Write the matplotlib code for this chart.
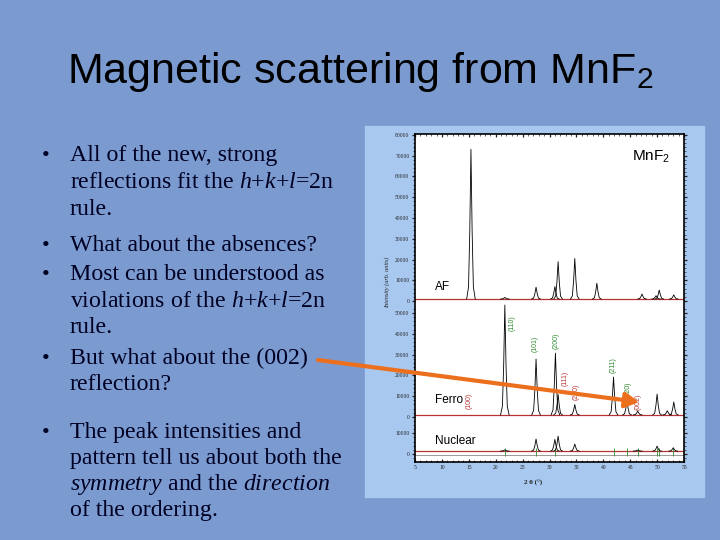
import matplotlib
matplotlib.use("Agg")
import matplotlib.pyplot as plt
import numpy as np
from matplotlib.patches import Rectangle, FancyArrowPatch

# --- data (2 theta in degrees, intensity in arb. units) ---
af_pos = [15.4, 21.7, 27.5, 31.0, 31.6, 34.7, 38.8, 47.2, 49.8, 50.4, 53.1]
af_top = [73000, 1800, 6700, 7000, 19000, 20500, 8600, 3400, 2600, 5300, 3000]
af_base = 1000

ferro_pos = [21.7, 27.5, 31.1, 31.6, 34.7, 41.9, 44.4, 46.4, 50.0, 51.9, 53.1]
ferro_top = [53800, 27900, 30700, 10800, 6000, 19200, 7600, 2800, 11000, 3000, 7200]
ferro_base = 1000

nuc_pos = [21.7, 27.5, 31.0, 31.6, 34.7, 46.4, 50.0, 53.0]
nuc_top = [2000, 7200, 7000, 8600, 4800, 1900, 3800, 3000]
nuc_base = 1400

bragg_pos = [21.7, 27.5, 31.0, 41.9, 44.4, 46.4, 50.0, 50.4, 53.0]

hkl_labels = ['(100)', '(110)', '(101)', '(200)', '(111)', '(210)', '(211)', '(220)', '(002)']
hkl_allowed = [False, True, True, True, False, False, True, True, False]
hkl_x = [15.0, 23.0, 27.3, 31.2, 32.9, 34.9, 41.8, 44.6, 46.4]

af_ticks = [0, 10000, 20000, 30000, 40000, 50000, 60000, 70000, 80000]
ferro_ticks = [0, 10000, 20000, 30000, 40000, 50000]
nuc_ticks = [0, 10000]

bullet_lines = [
    (True, "All of the new, strong"),
    (False, "reflections fit the $h$+$k$+$l$=2n"),
    (False, "rule."),
    (True, "What about the absences?"),
    (True, "Most can be understood as"),
    (False, "violations of the $h$+$k$+$l$=2n"),
    (False, "rule."),
    (True, "But what about the (002)"),
    (False, "reflection?"),
    (True, "The peak intensities and"),
    (False, "pattern tell us about both the"),
    (False, "$symmetry$ and the $direction$"),
    (False, "of the ordering."),
]

# --- layout / style ---
W, H = 720, 540
BG = '#7b9bd0'
FRAME = '#a8c8f0'
TXT = '#000022'
RED = '#b83232'
GREEN = '#2e8b2e'
ORANGE = '#ec6f1e'
AF_OFF = 73500
FERRO_OFF = 17800
line_base = [161, 188, 215, 251, 280, 307, 333, 364, 390, 438, 464, 490, 516]
hkl_y = [7700, 45200, 35100, 36500, 18700, 12000, 25000, 13000, 7200]

plt.rcParams['mathtext.fontset'] = 'custom'
plt.rcParams['mathtext.rm'] = 'Liberation Sans'
plt.rcParams['mathtext.it'] = 'Liberation Serif:italic'


def fx(px):
    return px / W


def fy(py):
    return 1 - py / H


fig = plt.figure(figsize=(7.2, 5.4), dpi=100, facecolor=BG)

fig.add_artist(Rectangle((fx(365), fy(497)), 339 / W, 371 / H,
                         transform=fig.transFigure, color=FRAME, zorder=-1))

fig.text(0.5, fy(83), "Magnetic scattering from MnF$_\\mathrm{2}$",
         ha='center', va='baseline', fontsize=31, family='Liberation Sans', color='black')

for (bullet, s), yb in zip(bullet_lines, line_base):
    if bullet:
        fig.text(fx(42), fy(yb), "\u2022", fontsize=16, family='Liberation Serif',
                 color=TXT, va='baseline')
    fig.text(fx(70), fy(yb), s, fontsize=17.2, family='Liberation Serif',
             color=TXT, va='baseline')

ax = fig.add_axes([fx(415), fy(462), 269 / W, 328 / H])
ax.set_facecolor('white')

shape_dx = np.array([-0.8, -0.45, -0.22, 0, 0.22, 0.45, 0.8])
shape_f = np.array([0, 0.08, 0.45, 1, 0.45, 0.08, 0])


def draw_pattern(pos, top, base, off):
    ax.plot([5, 55], [off + base, off + base], color=RED, lw=0.9, zorder=2)
    for p, t in zip(pos, top):
        ax.plot(p + shape_dx, off + base + (t - base) * shape_f, color='black', lw=0.6, zorder=3)


draw_pattern(af_pos, af_top, af_base, AF_OFF)
draw_pattern(ferro_pos, ferro_top, ferro_base, FERRO_OFF)
draw_pattern(nuc_pos, nuc_top, nuc_base, 0)
ax.plot([5, 55], [-480, -480], color='#999999', lw=0.7)
ax.vlines(bragg_pos, -1000, 2900, color=GREEN, lw=0.6)

for lab, ok, x, y in zip(hkl_labels, hkl_allowed, hkl_x, hkl_y):
    ax.text(x, FERRO_OFF + y, lab, rotation=90, ha='center', va='center', fontsize=5,
            family='Liberation Sans', color=GREEN if ok else RED)

ax.text(8.7, AF_OFF + 6800, "AF", fontsize=8.5, family='Liberation Sans', va='center')
ax.text(8.7, FERRO_OFF + 8200, "Ferro", fontsize=8.5, family='Liberation Sans', va='center')
ax.text(8.7, 6250, "Nuclear", fontsize=8.5, family='Liberation Sans', va='center')
ax.text(45.3, AF_OFF + 69300, "MnF$_\\mathrm{2}$", fontsize=11, family='Liberation Sans', va='center')

ax.set_xlim(5, 55)
ax.set_ylim(-3850, 153850)
ax.set_xticks(range(5, 56, 5))
ax.set_xticks(np.arange(5, 56, 1), minor=True)
ytick_pos = [AF_OFF + t for t in af_ticks] + [FERRO_OFF + t for t in ferro_ticks] + nuc_ticks
ytick_lab = [str(t) for t in af_ticks] + [str(t) for t in ferro_ticks] + [str(t) for t in nuc_ticks]
ax.set_yticks(ytick_pos, ytick_lab)
minor = list(AF_OFF + np.arange(0, 80001, 2000)) + list(FERRO_OFF + np.arange(0, 52001, 2000)) \
    + list(np.arange(-2000, 16001, 2000))
ax.set_yticks(minor, minor=True)
ax.tick_params(axis='x', which='both', direction='in', top=True, labelsize=4,
               labelfontfamily='Liberation Serif', pad=2.5, colors='#222222')
ax.tick_params(axis='y', which='both', direction='out', right=True, labelsize=4,
               labelfontfamily='Liberation Serif', pad=1.5, colors='#222222')
ax.tick_params(which='major', length=2.5, width=0.9)
ax.tick_params(which='minor', length=1.3, width=0.5)
for sp in ax.spines.values():
    sp.set_linewidth(1.2)

fig.text(fx(387), fy(282), "Intensity (arb. units)", rotation=90, ha='center', va='center',
         fontsize=4.5, family='Liberation Serif', style='italic', color='#222222')
fig.text(fx(533), fy(483), "2 \u03b8 (\u00b0)", ha='center', va='center',
         fontsize=5, family='Liberation Serif', weight='bold', color='#222222')

arrow = FancyArrowPatch((fx(318), fy(360)), (fx(639), fy(402)), transform=fig.transFigure,
                        arrowstyle='-|>,head_length=8,head_width=4.5', lw=3, color=ORANGE,
                        shrinkA=0, shrinkB=0, zorder=5)
fig.add_artist(arrow)

fig.savefig('out.png', dpi=100, facecolor=BG)
